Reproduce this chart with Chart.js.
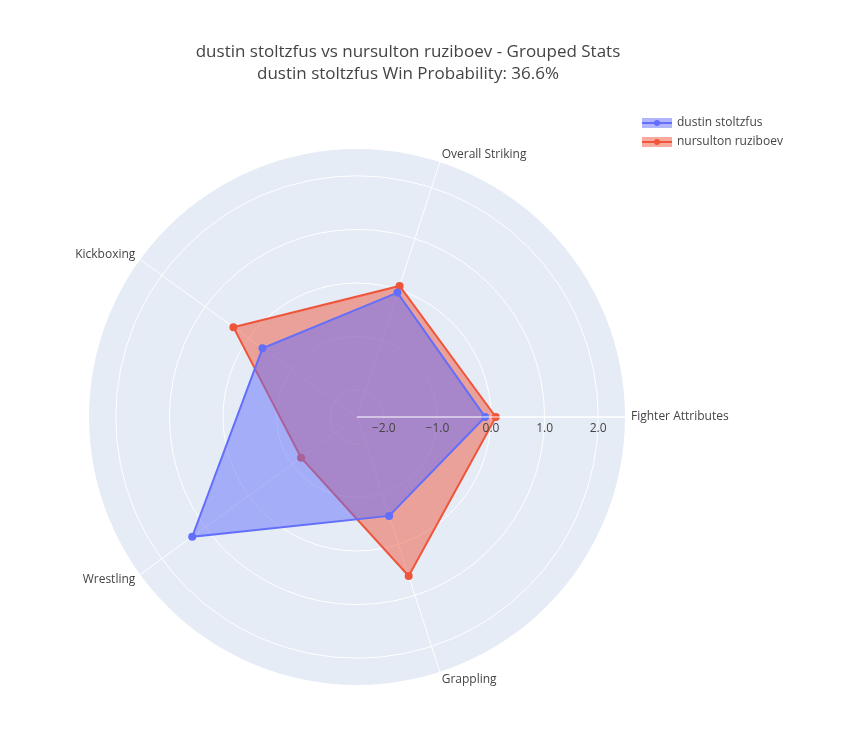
<!DOCTYPE html>
<html>
<head>
<meta charset="utf-8">
<script src="https://cdn.jsdelivr.net/npm/chart.js@4"></script>
<style>
  html, body { margin: 0; padding: 0; background: #fff; }
  #wrap { width: 849px; height: 730px; }
</style>
</head>
<body>
<div id="wrap"><canvas id="radar"></canvas></div>
<script>
// categories listed clockwise from east (Chart.js draws clockwise)
var categories = ['Fighter Attributes', 'Grappling', 'Wrestling', 'Kickboxing', 'Overall Striking'];
var stoltzfus = [-0.11, -0.56, 1.30, -0.32, -0.06];
var ruziboev = [0.09, 0.62, -1.21, 0.35, 0.07];
var tickValues = [-2, -1, 0, 1, 2];
var titleLines = ['dustin stoltzfus vs nursulton ruziboev - Grouped Stats', 'dustin stoltzfus Win Probability: 36.6%'];
var seriesNames = ['dustin stoltzfus', 'nursulton ruziboev'];

var FONT = '"Open Sans", "Liberation Sans", sans-serif';
var CX = 357, CY = 417, RAD = 268;

var polarPlugin = {
    id: 'polarPlugin',
    afterLayout: function (chart) {
        var s = chart.scales.r;
        s.xCenter = CX; s.yCenter = CY; s.drawingArea = RAD;
    },
    beforeDraw: function (chart) {
        var ctx = chart.ctx;
        ctx.save();
        ctx.fillStyle = '#E5ECF6';
        ctx.beginPath();
        ctx.arc(CX, CY, RAD, 0, Math.PI * 2);
        ctx.fill();
        ctx.restore();
    },
    afterDraw: function (chart) {
        var ctx = chart.ctx, s = chart.scales.r;
        ctx.save();
        // radial axis line
        ctx.strokeStyle = '#ffffff';
        ctx.lineWidth = 1;
        ctx.beginPath();
        ctx.moveTo(CX, CY); ctx.lineTo(CX + RAD, CY);
        ctx.stroke();
        // tick labels
        ctx.fillStyle = '#444';
        ctx.font = '12px ' + FONT;
        ctx.textAlign = 'center';
        ctx.textBaseline = 'top';
        tickValues.forEach(function (v) {
            var d = s.getDistanceFromCenterForValue(v);
            var txt = v.toFixed(1).replace('-', '\u2212');
            ctx.fillText(txt, CX + d, CY + 6);
        });
        // category labels
        ctx.textBaseline = 'middle';
        categories.forEach(function (c, i) {
            var a = i * 2 * Math.PI / categories.length;
            var x = CX + (RAD + 6) * Math.cos(a);
            var y = CY + (RAD + 8) * Math.sin(a);
            var cs = Math.cos(a);
            ctx.textAlign = cs > 0.1 ? 'left' : (cs < -0.1 ? 'right' : 'center');
            ctx.fillText(c, x, y);
        });
        // title
        ctx.font = '17px ' + FONT;
        ctx.textAlign = 'center';
        ctx.fillText(titleLines[0], 408, 52);
        ctx.fillText(titleLines[1], 408, 74);
        // legend
        var cols = ['#636EFA', '#EF553B'];
        ctx.font = '12px ' + FONT;
        ctx.textAlign = 'left';
        seriesNames.forEach(function (n, i) {
            var y = 123 + i * 19;
            ctx.fillStyle = cols[i] + '80';
            ctx.fillRect(642, y - 5, 30, 10);
            ctx.strokeStyle = cols[i];
            ctx.lineWidth = 2;
            ctx.beginPath(); ctx.moveTo(642, y); ctx.lineTo(672, y); ctx.stroke();
            ctx.fillStyle = cols[i];
            ctx.beginPath(); ctx.arc(657, y, 3, 0, Math.PI * 2); ctx.fill();
            ctx.fillStyle = '#444';
            ctx.fillText(n, 677, y);
        });
        ctx.restore();
    }
};

new Chart(document.getElementById('radar'), {
    type: 'radar',
    data: {
        labels: categories,
        datasets: [{
            label: seriesNames[0],
            data: stoltzfus,
            borderColor: '#636EFA',
            backgroundColor: 'rgba(99,110,250,0.5)',
            pointBackgroundColor: '#636EFA',
            pointBorderColor: '#636EFA',
            pointRadius: 3,
            borderWidth: 2,
            fill: 'start'
        }, {
            label: seriesNames[1],
            data: ruziboev,
            borderColor: '#EF553B',
            backgroundColor: 'rgba(239,85,59,0.5)',
            pointBackgroundColor: '#EF553B',
            pointBorderColor: '#EF553B',
            pointRadius: 3,
            borderWidth: 2,
            fill: 'start'
        }]
    },
    options: {
        responsive: true,
        maintainAspectRatio: false,
        animation: false,
        plugins: {
            legend: { display: false },
            tooltip: { enabled: false },
            filler: { propagate: false }
        },
        scales: {
            r: {
                min: -2.5,
                max: 2.5,
                startAngle: 90,
                afterBuildTicks: function (scale) {
                    scale.ticks = tickValues.map(function (v) { return { value: v }; });
                },
                ticks: { display: false },
                pointLabels: { display: false },
                grid: { circular: true, color: '#ffffff', lineWidth: 1 },
                angleLines: { color: '#ffffff', lineWidth: 1 }
            }
        }
    },
    plugins: [polarPlugin]
});
</script>
</body>
</html>
